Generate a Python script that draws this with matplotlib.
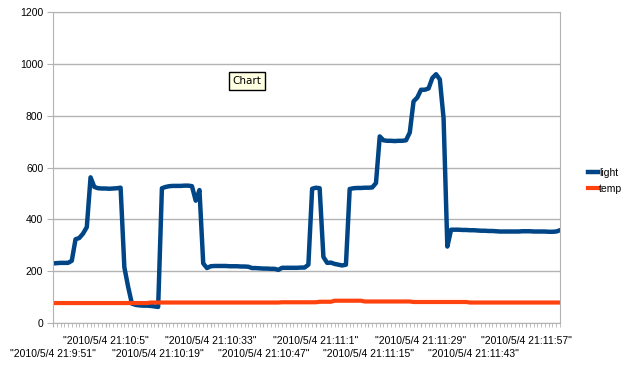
import numpy as np
import matplotlib.pyplot as plt

plt.rcParams['font.family'] = ['Liberation Sans', 'DejaVu Sans']

# light sensor readings, one per second starting 2010/5/4 21:9:51
light = [230, 231, 232, 232, 232, 240, 323, 328, 345, 370,
         562, 525, 520, 519, 519, 518, 519, 520, 522, 215,
         140, 75, 70, 68, 67, 67, 66, 64, 62, 520,
         525, 528, 529, 529, 529, 530, 530, 528, 472, 513,
         230, 212, 219, 220, 220, 220, 220, 219, 219, 219,
         218, 218, 217, 212, 212, 211, 210, 210, 209, 209,
         205, 213, 213, 213, 213, 213, 214, 214, 225, 518,
         522, 520, 255, 232, 233, 228, 225, 222, 225, 517,
         520, 521, 521, 522, 522, 523, 540, 720, 705, 703,
         703, 702, 703, 703, 705, 735, 855, 870, 900, 900,
         905, 945, 960, 940, 790, 295, 360, 360, 360, 359,
         359, 358, 358, 357, 356, 356, 355, 355, 354, 353,
         353, 353, 353, 353, 353, 354, 354, 354, 353, 353,
         353, 353, 352, 352, 353, 358]

temp = [77] * 26 + [79] * 35 + [80] * 10 + [82] * 4 + [86] * 8 + \
       [83] * 13 + [81] * 15 + [79] * 25

tick_labels = ['"2010/5/4 21:9:51"', '"2010/5/4 21:10:5"', '"2010/5/4 21:10:19"',
               '"2010/5/4 21:10:33"', '"2010/5/4 21:10:47"', '"2010/5/4 21:11:1"',
               '"2010/5/4 21:11:15"', '"2010/5/4 21:11:29"', '"2010/5/4 21:11:43"',
               '"2010/5/4 21:11:57"']
label_step = 14

x = np.arange(len(light))
grey = '#b3b3b3'

fig = plt.figure(figsize=(6.37, 3.76), dpi=100)
ax = fig.add_axes([53 / 637, 1 - 323 / 376, 507 / 637, 311 / 376])

ax.plot(x, light, color='#004586', lw=3.2, label='light', solid_joinstyle='round')
ax.plot(x, temp, color='#ff420e', lw=3.0, label='temp')

ax.set_xlim(0, len(light) - 1)
ax.set_ylim(0, 1200)
ax.set_yticks(range(0, 1201, 200))
ax.yaxis.grid(True, color=grey, lw=1)
ax.set_axisbelow(True)

ax.set_xticks(x, minor=True)
major = [i * label_step for i in range(len(tick_labels))]
ax.set_xticks(major)
ax.set_xticklabels(tick_labels)

for s in ax.spines.values():
    s.set_color(grey)
ax.tick_params(axis='both', which='both', color=grey, labelsize=7.5, labelcolor='black')
ax.tick_params(axis='x', which='both', length=3, pad=6)
ax.tick_params(axis='y', length=4, pad=3)

# staggered labels: every other one on a second row
for k, t in enumerate(ax.xaxis.get_major_ticks()):
    if k % 2 == 0:
        t.set_pad(15.5)

fig.legend(loc='upper left', bbox_to_anchor=(588 / 637, 1 - 168 / 376), frameon=False,
           handlelength=1.0, handletextpad=0.05, fontsize=7.5, labelspacing=0.55,
           borderaxespad=0, borderpad=0)

# tooltip box left in the screenshot
fig.text(247 / 637, 1 - 81 / 376, 'Chart', ha='center', va='center', fontsize=7.5,
         family=['DejaVu Sans'],
         bbox=dict(boxstyle='square,pad=0.35', fc='#ffffe1', ec='black', lw=1))

fig.savefig('out.png', dpi=100)
